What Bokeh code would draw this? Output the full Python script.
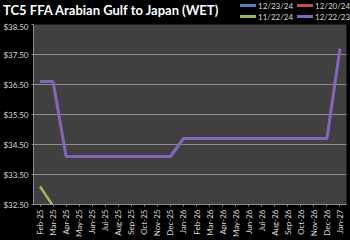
from bokeh.plotting import figure
from bokeh.layouts import column
from bokeh.models import Range1d, Div, FixedTicker, CustomJSTickFormatter
from bokeh.embed import file_html
from bokeh.resources import INLINE

months = ["Feb-25", "Mar-25", "Apr-25", "May-25", "Jun-25", "Jul-25", "Aug-25", "Sep-25",
          "Oct-25", "Nov-25", "Dec-25", "Jan-26", "Feb-26", "Mar-26", "Apr-26", "May-26",
          "Jun-26", "Jul-26", "Aug-26", "Sep-26", "Oct-26", "Nov-26", "Dec-26", "Jan-27"]

series_names = ["12/23/24", "12/20/24", "11/22/24", "12/22/23"]
series_colors = ["#4f81bd", "#c0504d", "#9bbb59", "#8466b8"]

s_122324 = []          # not visible in range
s_122024 = []          # not visible in range
s_112224 = [33.1, 32.45]
s_122223 = [36.6, 36.6, 34.1, 34.1, 34.1, 34.1, 34.1, 34.1, 34.1, 34.1, 34.1,
            34.7, 34.7, 34.7, 34.7, 34.7, 34.7, 34.7, 34.7, 34.7, 34.7, 34.7, 34.7, 37.7]
all_series = [s_122324, s_122024, s_112224, s_122223]

y_ticks = [32.5, 33.5, 34.5, 35.5, 36.5, 37.5, 38.5]

FONT = "Lato"
TITLE = "TC5 FFA Arabian Gulf to Japan (WET)"

# ---- header: title + legend (2 x 2) ----
parts = [f'<div style="position:absolute;left:3px;top:4px;font-family:{FONT};font-weight:bold;'
         f'font-size:13px;line-height:13px;color:white;white-space:nowrap;">{TITLE}</div>']
for i, (name, col) in enumerate(zip(series_names, series_colors)):
    lx = 240 + (i % 2) * 57
    cy = 5 + (i // 2) * 11.5
    parts.append(f'<div style="position:absolute;left:{lx}px;top:{cy - 1.5}px;width:16px;height:3px;'
                 f'background:{col};"></div>')
    parts.append(f'<div style="position:absolute;left:{lx + 18}px;top:{cy - 3.5}px;font-family:{FONT};'
                 f'font-size:8px;line-height:8px;color:#d9d9d9;white-space:nowrap;">{name}</div>')
head = Div(text='<div style="position:relative;width:350px;height:21px;background:black;">'
                + "".join(parts) + "</div>",
           width=350, height=21, margin=(0, 0, 0, 0), styles={"background-color": "black"})

# ---- main chart ----
p = figure(width=350, height=219, x_range=months, y_range=Range1d(32.5, 38.5),
           output_backend="svg", toolbar_location=None,
           background_fill_color="#404040", border_fill_color="black",
           min_border_left=32, min_border_right=4, min_border_top=3, min_border_bottom=31)
p.outline_line_color = None

for vals, col, name in zip(all_series, series_colors, series_names):
    p.line(months[:len(vals)], vals, line_color=col, line_width=2.5 if name == "11/22/24" else 3,
           name=name)

p.xgrid.grid_line_color = None
p.ygrid.grid_line_color = "#8c8c8c"
p.ygrid.grid_line_width = 1

p.yaxis.ticker = FixedTicker(ticks=y_ticks)
p.yaxis.formatter = CustomJSTickFormatter(code="return '$' + tick.toFixed(2);")
for ax in (p.xaxis, p.yaxis):
    ax.major_label_text_font = FONT
    ax.major_label_text_font_size = "8px"
    ax.major_label_text_color = "#d9d9d9"
    ax.axis_line_color = "#8c8c8c"
    ax.major_tick_line_color = "#8c8c8c"
    ax.major_tick_in = 0
    ax.major_tick_out = 2
    ax.minor_tick_line_color = None
    ax.major_label_standoff = 3
p.xaxis.major_label_orientation = 1.5708

layout = column(head, p, spacing=0, styles={"background-color": "black"})
open("out.html", "w").write(file_html(layout, INLINE))
